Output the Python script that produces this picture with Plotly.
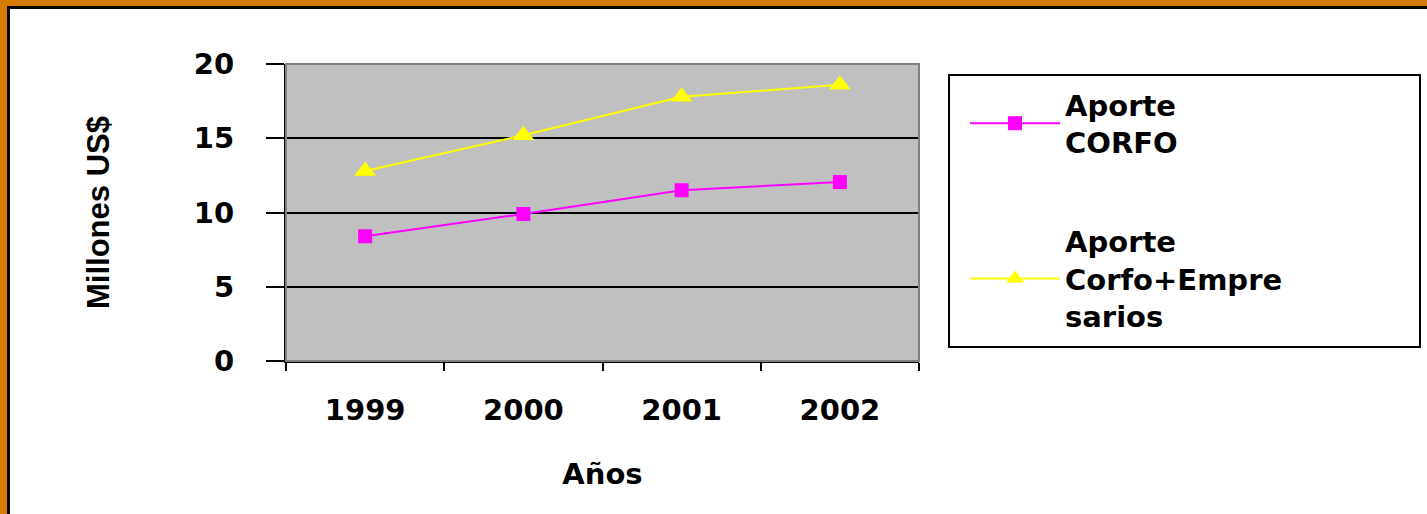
import plotly.graph_objects as go

years = ["1999", "2000", "2001", "2002"]
aporte_corfo = [8.4, 9.9, 11.5, 12.05]
aporte_total = [12.8, 15.2, 17.8, 18.6]
y_ticks = [0, 5, 10, 15, 20]

W, H = 1427, 514
L, R, T, B = 286, 919, 64, 361  # plot area in pixels
pw, ph = R - L, B - T

def px(x):
    return (x - L) / pw

def py(y):
    return (B - y) / ph

FONT = "DejaVu Sans"

fig = go.Figure()
fig.add_trace(go.Scatter(
    x=years, y=aporte_corfo, mode="lines+markers",
    name="Aporte<br>CORFO", legendgroup="a",
    line=dict(color="#FF00FF", width=2),
    marker=dict(symbol="square", size=14, color="#FF00FF"),
))
fig.add_trace(go.Scatter(
    x=years, y=aporte_total, mode="lines+markers",
    name="Aporte<br>Corfo+Empre<br>sarios", legendgroup="b",
    line=dict(color="#FFFF00", width=2),
    marker=dict(symbol="triangle-up", size=19, color="#FFFF00"),
))

shapes = [
    # gray plot-area border (top / right)
    dict(type="rect", xref="paper", yref="paper", x0=0, x1=1, y0=0, y1=1,
         line=dict(color="#808080", width=2), layer="above"),
    # legend frame
    dict(type="rect", xref="paper", yref="paper", x0=px(949), x1=px(1420), y0=py(347), y1=py(75),
         line=dict(color="black", width=2), layer="above"),
    # orange frame top and left
    dict(type="rect", xref="paper", yref="paper", x0=px(0), x1=px(W), y0=py(0), y1=py(6),
         fillcolor="#D47B00", line=dict(width=0), layer="above"),
    dict(type="rect", xref="paper", yref="paper", x0=px(7), x1=px(W), y0=py(6), y1=py(9),
         fillcolor="#000000", line=dict(width=0), layer="above"),
    dict(type="rect", xref="paper", yref="paper", x0=px(0), x1=px(7), y0=py(0), y1=py(H),
         fillcolor="#D47B00", line=dict(width=0), layer="above"),
    dict(type="rect", xref="paper", yref="paper", x0=px(7), x1=px(10), y0=py(6), y1=py(H),
         fillcolor="#000000", line=dict(width=0), layer="above"),
]

fig.update_layout(
    width=W, height=H,
    margin=dict(l=L, r=W - R, t=T, b=H - B, autoexpand=False),
    paper_bgcolor="white",
    plot_bgcolor="#C0C0C0",
    font=dict(family=FONT, color="black", size=28, weight="bold"),
    showlegend=True,
    legend=dict(
        x=px(965), y=py(79), xanchor="left", yanchor="top",
        borderwidth=0, bgcolor="rgba(0,0,0,0)",
        font=dict(family=FONT, size=29, weight="bold"),
        tracegroupgap=58, traceorder="grouped",
        itemwidth=90,
    ),
    shapes=shapes,
    xaxis=dict(
        type="category", tickson="boundaries", range=[-0.5, 3.5],
        showgrid=False, showline=True, linecolor="black", linewidth=2,
        ticks="outside", ticklen=8, tickwidth=2, tickcolor="black",
        ticklabelstandoff=22,
        tickfont=dict(family=FONT, size=29, weight="bold"),
        title=dict(text="Años", standoff=38,
                   font=dict(family=FONT, size=29, weight="bold")),
        zeroline=False,
    ),
    yaxis=dict(
        range=[0, 20], tickvals=y_ticks,
        showgrid=True, gridcolor="black", gridwidth=2,
        showline=True, linecolor="black", linewidth=2,
        ticks="outside", ticklen=18, tickwidth=2, tickcolor="black",
        ticklabelstandoff=26,
        tickfont=dict(family=FONT, size=29, weight="bold"),
        title=dict(text="Millones US$", standoff=75,
                   font=dict(family="Liberation Sans", size=31, weight="bold")),
        zeroline=False,
    ),
)

fig.write_html("out.html", config={"displayModeBar": False},
               post_script="document.body.style.margin='0';")
